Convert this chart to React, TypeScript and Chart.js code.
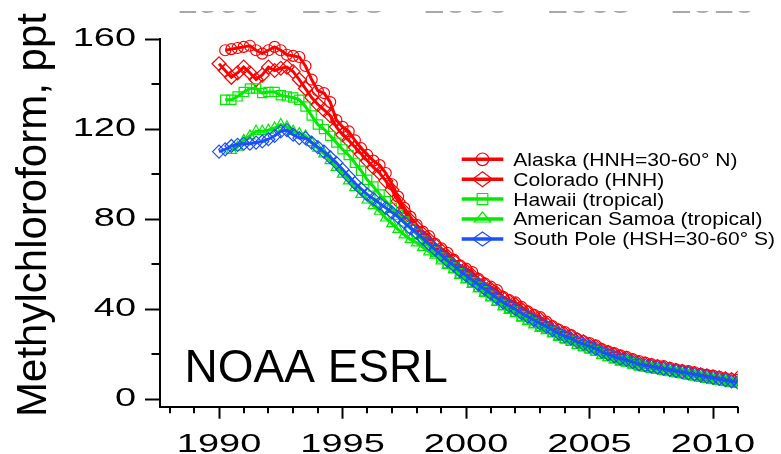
import { useEffect, useRef } from 'react';
import { Chart, registerables } from 'chart.js';

Chart.register(...registerables);

// ---------------- data ----------------
const years = [
  1990, 1990.25, 1990.5, 1990.75,
  1991, 1991.25, 1991.5, 1991.75,
  1992, 1992.25, 1992.5, 1992.75,
  1993, 1993.25, 1993.5, 1993.75,
  1994, 1994.25, 1994.5, 1994.75,
  1995, 1995.25, 1995.5, 1995.75,
  1996, 1996.25, 1996.5, 1996.75,
  1997, 1997.25, 1997.5, 1997.75,
  1998, 1998.25, 1998.5, 1998.75,
  1999, 1999.25, 1999.5, 1999.75,
  2000, 2000.25, 2000.5, 2000.75,
  2001, 2001.25, 2001.5, 2001.75,
  2002, 2002.25, 2002.5, 2002.75,
  2003, 2003.25, 2003.5, 2003.75,
  2004, 2004.25, 2004.5, 2004.75,
  2005, 2005.25, 2005.5, 2005.75,
  2006, 2006.25, 2006.5, 2006.75,
  2007, 2007.25, 2007.5, 2007.75,
  2008, 2008.25, 2008.5, 2008.75,
  2009, 2009.25, 2009.5, 2009.75,
  2010, 2010.25, 2010.5, 2010.75,
  2011,
];

const alaska = [
  null, 155, 155.5, 156,
  156.5, 157, 155, 153.5,
  155, 156.5, 155, 153,
  152.5, 152, 148, 142,
  137, 136, 132, 124,
  121, 119, 115, 111.5,
  108.5, 106, 104, 100.5,
  95.5, 90, 85, 81,
  77.5, 74.5, 72.5, 69,
  67, 65, 62, 59.5,
  58, 56.5, 53.5, 51.5,
  50, 48.5, 45.5, 44,
  43, 41, 39, 37.5,
  36.5, 34.5, 32.5, 31,
  29.8, 28.5, 26.8, 25.8,
  25, 24, 22.3, 21.3,
  20.5, 19.5, 18.8, 17.8,
  17, 16.3, 15.6, 15,
  14.7, 14, 13.3, 12.8,
  12.5, 12, 11.3, 10.8,
  10.5, 10, 9.3, 8.9,
  8.6,
];

const colorado = [
  149, 146, 143, 145,
  147.5, 145, 142, 144,
  147.5, 146, 147, 147.5,
  145.5, 142, 138, 134,
  131, 128.5, 126, 121,
  117.5, 115, 112, 109,
  106, 103, 100.5, 97,
  93, 88, 83.5, 79.5,
  76.5, 73.5, 71, 68.5,
  66, 63.5, 61.5, 59,
  57, 55, 53, 51,
  49, 47, 45, 43.5,
  42, 40, 38.5, 37,
  35.5, 33.5, 32, 30.5,
  29, 28, 26.5, 25.5,
  24.3, 23.3, 21.8, 20.8,
  19.8, 18.8, 18.2, 17.2,
  16.2, 15.6, 15, 14.5,
  14, 13.4, 12.9, 12.4,
  11.9, 11.4, 10.9, 10.4,
  9.9, 9.5, 9.1, 8.8,
  9.3,
];

const hawaii = [
  null, 133, 133, 134.5,
  136.5, 138, 138, 136,
  136.5, 136.5, 135, 134.5,
  134, 133, 130, 126,
  122, 120, 117, 114,
  111, 108.5, 105, 101.5,
  97.5, 94.5, 91, 88,
  85, 82, 79, 76,
  73.5, 70.5, 68, 65.5,
  63, 60.5, 58.5, 56,
  54, 52, 50, 48,
  46, 44, 42, 40.5,
  39, 37, 35.5, 34,
  32.5, 31.5, 30, 28.5,
  27, 26, 24.5, 23.5,
  22.5, 21.5, 20.2, 19.2,
  18.3, 17.4, 16.9, 16,
  15, 14.5, 14, 13.5,
  13, 12.5, 12, 11.5,
  11, 10.5, 10, 9.5,
  9, 8.6, 8.1, 7.6,
  7.3,
];

const samoa = [
  null, null, 110.5, 112,
  115, 117, 119, 119,
  119.5, 120.5, 122, 121,
  119, 118, 117, 114,
  111.5, 109, 106, 103,
  100, 97, 94, 91,
  88.5, 86, 83.5, 80.5,
  78, 75.5, 73, 71,
  69.5, 67.5, 65.5, 64,
  61.5, 59.5, 57.5, 55,
  53, 51, 49, 47,
  45, 43, 41, 39.5,
  38, 36, 34.5, 33,
  31.5, 30.5, 29, 27.5,
  26.5, 25.5, 24, 23,
  22, 21, 19.5, 18.5,
  17.5, 16.5, 16, 15.2,
  14.5, 14, 13.5, 13,
  12.5, 12, 11.5, 11,
  10.5, 10, 9.5, 9,
  8.5, 8.1, 7.6, 7.1,
  6.8,
];

const southPole = [
  110, 111, 112.5, 113,
  113.5, 113.5, 114, 114.5,
  115.5, 117, 119, 119.5,
  117.5, 116, 116, 114,
  112, 110, 107.5, 105,
  102, 99, 96, 93.5,
  91, 89, 87, 85,
  83, 81, 78.5, 76,
  74, 71.5, 69, 66.5,
  64, 61.5, 59.5, 57,
  55, 53, 51, 49,
  47, 45, 43, 41.5,
  40, 38.2, 36.7, 35.2,
  33.7, 32.3, 30.8, 29.3,
  28, 27, 25.5, 24.5,
  23.5, 22.5, 21, 20,
  19, 18, 17.5, 16.5,
  15.5, 15, 14.5, 14,
  13.5, 13, 12.5, 12,
  11.5, 11, 10.5, 10,
  9.5, 9, 8.5, 8,
  7.5,
];

const seriesNames = [
  'Alaska (HNH=30-60° N)',
  'Colorado (HNH)',
  'Hawaii (tropical)',
  'American Samoa (tropical)',
  'South Pole (HSH=30-60° S)',
];
const seriesValues = [alaska, colorado, hawaii, samoa, southPole];

const xTickLabels = [1990, 1995, 2000, 2005, 2010];
const yTickLabels = [0, 40, 80, 120, 160];
const yTitle = 'Methylchloroform, ppt';
const stamp = 'NOAA ESRL';

// ---------------- styles ----------------
const RED = 'rgb(255,0,0)';
const GREEN = 'rgb(0,235,0)';
const BLUE = 'rgb(25,80,255)';
const seriesStyles = [
  { color: RED, pointStyle: 'circle', radius: 5.5, order: 4, lw: 6.3, lh: 6.3 },
  { color: RED, pointStyle: 'rectRot', radius: 7, order: 3, lw: 10, lh: 7.5 },
  { color: GREEN, pointStyle: 'rect', radius: 6.5, order: 2, lw: 5.3, lh: 5.6 },
  { color: GREEN, pointStyle: 'triangle', radius: 6, order: 1, lw: 8.3, lh: 7 },
  { color: BLUE, pointStyle: 'rectRot', radius: 6.5, order: 0, lw: 10, lh: 7 },
];

const FONT = 'Liberation Sans';
const TICK_SIZE = 26;
const TICK_STRETCH = 1.46;
const LEGEND_SIZE = 17.7;
const LEGEND_STRETCH = 1.19;

const isMajor = (list: number[], v: number) =>
  Math.abs(v - Math.round(v)) < 1e-6 && list.includes(Math.round(v));

function stretchedText(ctx: CanvasRenderingContext2D, text: string, x: number, y: number, sx: number) {
  ctx.save();
  ctx.translate(x, y);
  ctx.scale(sx, 1);
  ctx.fillText(text, 0, 0);
  ctx.restore();
}

function drawLegendMarker(ctx: CanvasRenderingContext2D, style: string, x: number, y: number, w: number, h: number) {
  ctx.beginPath();
  if (style === 'circle') {
    ctx.ellipse(x, y, w, h, 0, 0, Math.PI * 2);
  } else if (style === 'rect') {
    ctx.rect(x - w, y - h, 2 * w, 2 * h);
  } else if (style === 'rectRot') {
    ctx.moveTo(x, y - h);
    ctx.lineTo(x + w, y);
    ctx.lineTo(x, y + h);
    ctx.lineTo(x - w, y);
    ctx.closePath();
  } else if (style === 'triangle') {
    ctx.moveTo(x, y - h);
    ctx.lineTo(x + w, y + 3);
    ctx.lineTo(x - w, y + 3);
    ctx.closePath();
  }
  ctx.stroke();
}

const nativeFillText = CanvasRenderingContext2D.prototype.fillText;

// faint, cropped copy of the year labels along the top edge: only a thin strip
// of the glyph bottoms is copied in from an off-screen canvas
function drawGhostStrip(chart: any) {
  const ctx: CanvasRenderingContext2D = chart.ctx;
  const xs = chart.scales.x;
  const W = 781;
  const off = document.createElement('canvas');
  off.width = W;
  off.height = 40;
  const o = off.getContext('2d');
  if (!o) return;
  o.fillStyle = '#a8a8a8';
  o.font = `${TICK_SIZE}px "${FONT}"`;
  o.textAlign = 'center';
  o.textBaseline = 'alphabetic';
  xTickLabels.forEach((v) => {
    o.save();
    o.translate(xs.getPixelForValue(v), 30);
    o.scale(TICK_STRETCH, 1);
    nativeFillText.call(o, String(v), 0, 0);
    o.restore();
  });
  ctx.drawImage(off, 0, 28, W, 3, 0, 11, W, 3);
}

const decorPlugin = {
  id: 'decor',
  afterDatasetsDraw(chart: any) {
    const ctx: CanvasRenderingContext2D = chart.ctx;
    const area = chart.chartArea;
    const xs = chart.scales.x;
    const ys = chart.scales.y;

    drawGhostStrip(chart);

    // minor ticks
    ctx.save();
    ctx.strokeStyle = '#000';
    ctx.lineWidth = 2;
    ctx.beginPath();
    xs.ticks.forEach((t: any) => {
      if (isMajor(xTickLabels, t.value)) return;
      const px = Math.round(xs.getPixelForValue(t.value));
      ctx.moveTo(px, area.bottom);
      ctx.lineTo(px, area.bottom + 6.5);
    });
    ys.ticks.forEach((t: any) => {
      if (isMajor(yTickLabels, t.value)) return;
      const py = Math.round(ys.getPixelForValue(t.value));
      ctx.moveTo(area.left, py);
      ctx.lineTo(area.left - 8.5, py);
    });
    ctx.stroke();
    ctx.restore();

    // legend
    ctx.save();
    const lx0 = area.left + 301.7;
    const lx1 = area.left + 343.3;
    const lmx = area.left + 322.5;
    const ltx = area.left + 353.3;
    const ly0 = area.top + 120.3;
    chart.data.datasets.forEach((ds: any, i: number) => {
      const st = seriesStyles[i];
      const y = ly0 + i * 19.9;
      ctx.strokeStyle = st.color;
      ctx.lineWidth = 3.5;
      ctx.beginPath();
      ctx.moveTo(lx0, y);
      ctx.lineTo(lx1, y);
      ctx.stroke();
      ctx.lineWidth = 1.2;
      drawLegendMarker(ctx, st.pointStyle, lmx, y, st.lw, st.lh);
      ctx.fillStyle = '#000';
      ctx.font = `${LEGEND_SIZE}px "${FONT}"`;
      ctx.textAlign = 'left';
      ctx.textBaseline = 'alphabetic';
      stretchedText(ctx, ds.label, ltx, y + 6.4, LEGEND_STRETCH);
    });

    // stamp
    ctx.fillStyle = '#000';
    ctx.font = `46px "${FONT}"`;
    ctx.textAlign = 'left';
    ctx.textBaseline = 'alphabetic';
    ctx.fillText(stamp, area.left + 24.5, area.bottom - 25);

    // y title
    ctx.translate(45.5, 215);
    ctx.rotate(-Math.PI / 2);
    ctx.font = `42px "${FONT}"`;
    ctx.textAlign = 'center';
    ctx.fillText(yTitle, 0, 0);
    ctx.restore();

    // the tick labels (drawn next, in the z=1 layer) use a horizontally wide face
    (ctx as any).fillText = function (text: string, x: number, y: number) {
      this.save();
      this.translate(x, y);
      this.scale(TICK_STRETCH, 1);
      nativeFillText.call(this, text, 0, 0);
      this.restore();
    };
  },
  afterDraw(chart: any) {
    delete (chart.ctx as any).fillText;
  },
};

export default function App() {
  const ref = useRef<HTMLCanvasElement>(null);
  useEffect(() => {
    const canvas = ref.current;
    if (!canvas) return;
    const datasets = seriesValues.map((vals, i) => {
      const st = seriesStyles[i];
      return {
        label: seriesNames[i],
        data: years.map((x, j) => ({ x, y: vals[j] })),
        borderColor: st.color,
        backgroundColor: 'rgba(0,0,0,0)',
        borderWidth: 3,
        pointStyle: st.pointStyle,
        pointRadius: st.radius,
        pointBorderWidth: 1.2,
        pointBorderColor: st.color,
        pointBackgroundColor: 'rgba(0,0,0,0)',
        tension: 0,
        order: st.order,
      };
    });
    const tickFont = { family: FONT, size: TICK_SIZE };
    const chart = new Chart(canvas, {
      type: 'line',
      data: { datasets } as any,
      options: {
        animation: false,
        responsive: true,
        maintainAspectRatio: false,
        layout: { padding: { left: 0, top: 39, right: 43.3, bottom: 0 } },
        plugins: { legend: { display: false }, tooltip: { enabled: false } },
        scales: {
          x: {
            type: 'linear',
            position: 'bottom',
            min: 1987.61,
            max: 2011,
            afterFit: (s: any) => { s.height = 47.3; },
            ticks: {
              stepSize: 1,
              includeBounds: false,
              autoSkip: false,
              maxRotation: 0,
              minRotation: 0,
              z: 1,
              padding: 11,
              color: '#000',
              font: tickFont,
              callback: (v: any) => (isMajor(xTickLabels, Number(v)) ? String(Math.round(Number(v))) : ''),
            },
            grid: {
              display: true,
              drawOnChartArea: false,
              drawTicks: true,
              tickLength: 12,
              tickWidth: 2,
              tickColor: (c: any) => (c.tick && isMajor(xTickLabels, c.tick.value) ? '#000' : 'rgba(0,0,0,0)'),
            },
            border: { display: true, color: '#000', width: 2 },
          },
          y: {
            type: 'linear',
            position: 'left',
            min: -3.29,
            max: 160,
            afterFit: (s: any) => { s.width = 160; },
            ticks: {
              stepSize: 20,
              includeBounds: false,
              autoSkip: false,
              z: 1,
              padding: 9,
              color: '#000',
              font: tickFont,
              callback: (v: any) => (isMajor(yTickLabels, Number(v)) ? String(Math.round(Number(v))) : ''),
            },
            grid: {
              display: true,
              drawOnChartArea: false,
              drawTicks: true,
              tickLength: 15,
              tickWidth: 2,
              tickColor: (c: any) => (c.tick && isMajor(yTickLabels, c.tick.value) ? '#000' : 'rgba(0,0,0,0)'),
            },
            border: { display: true, color: '#000', width: 2 },
          },
        },
      } as any,
      plugins: [decorPlugin],
    });
    return () => chart.destroy();
  }, []);
  return (
    <div style={{ position: 'fixed', left: 0, top: 0, width: 781, height: 454, background: '#fff' }}>
      <canvas ref={ref} />
    </div>
  );
}
